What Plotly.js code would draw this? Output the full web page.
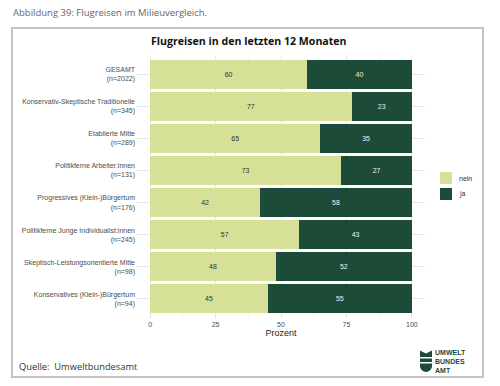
<!DOCTYPE html>
<html>
<head>
<meta charset="utf-8">
<script src="https://cdn.plot.ly/plotly-3.0.1.min.js"></script>
<style>
  html, body { margin: 0; padding: 0; background: #ffffff; }
  #chart { width: 500px; height: 386px; }
</style>
</head>
<body>
<div id="chart"></div>
<script>
// Milieus, top to bottom
const milieus = [
  "GESAMT",
  "Konservativ-Skeptische Traditionelle",
  "Etablierte Mitte",
  "Politikferne Arbeiter:innen",
  "Progressives (Klein-)Bürgertum",
  "Politikferne Junge Individualist:innen",
  "Skeptisch-Leistungsorientierte Mitte",
  "Konservatives (Klein-)Bürgertum"
];
const sampleSizes = [2022, 345, 289, 131, 176, 245, 98, 94];

// Share (in %) who did not / did travel by plane in the last 12 months
const neinValues = [60, 77, 65, 73, 42, 57, 48, 45];
const jaValues   = [40, 23, 35, 27, 58, 43, 52, 55];

const seriesNames = ["nein", "ja"];
const xTickValues = [0, 25, 50, 75, 100];

const categoryLabels = milieus.map((m, i) => m + "<br>(n=" + sampleSizes[i] + ")");

// Plot frame in pixels, used to place page decorations in paper units
const W = 500, H = 386;
const plotL = 137, plotR = 425, plotT = 55, plotB = 318;
const px = x => (x - plotL) / (plotR - plotL);
const py = y => (plotB - y) / (plotB - plotT);

const colNein = "#d6e197";
const colJa = "#1c4b37";
const seriesColors = [colNein, colJa];
const sansFamily = "Liberation Sans, Arial, sans-serif";
const tickFont = { family: sansFamily, size: 7, color: "#4d4d4d" };

const traces = [
  {
    type: "bar", orientation: "h", name: seriesNames[0],
    y: categoryLabels, x: neinValues,
    marker: { color: colNein, line: { width: 0 } },
    text: neinValues.map(String), textposition: "inside", insidetextanchor: "middle",
    textfont: { family: sansFamily, size: 7, color: "#333333" },
    hoverinfo: "skip", showlegend: false
  },
  {
    type: "bar", orientation: "h", name: seriesNames[1],
    y: categoryLabels, x: jaValues,
    marker: { color: colJa, line: { width: 0 } },
    text: jaValues.map(String), textposition: "inside", insidetextanchor: "middle",
    textfont: { family: sansFamily, size: 7, color: "#eeeeee" },
    hoverinfo: "skip", showlegend: false
  }
];

// Umweltbundesamt logo mark, drawn as paths in pixel coordinates
function pathFromPx(points) {
  return points.map((p, i) => (i === 0 ? "M" : "L") + px(p[0]).toFixed(4) + "," + py(p[1]).toFixed(4)).join(" ") + " Z";
}
const logoTop = pathFromPx([[420, 350.5], [426, 353.5], [432, 350.5], [432, 357], [420, 357]]);
const logoMid = pathFromPx([[420, 358.5], [432, 358.5], [432, 362], [420, 362]]);
const logoBot = pathFromPx([[420, 363.5], [432, 363.5], [432, 367], [430.5, 370], [428, 371.5], [426, 372], [424, 371.5], [421.5, 370], [420, 367]]);

const shapes = [
  // outer frame
  { type: "rect", xref: "paper", yref: "paper", x0: px(12), x1: px(483), y0: py(28), y1: py(377),
    line: { color: "#c4c4c4", width: 2 }, fillcolor: "rgba(0,0,0,0)", layer: "below" },
  { type: "path", xref: "paper", yref: "paper", path: logoTop, fillcolor: colJa, line: { width: 0 } },
  { type: "path", xref: "paper", yref: "paper", path: logoMid, fillcolor: colJa, line: { width: 0 } },
  { type: "path", xref: "paper", yref: "paper", path: logoBot, fillcolor: colJa, line: { width: 0 } }
];

const annotations = [
  { text: "Abbildung 39: Flugreisen im Milieuvergleich.", xref: "paper", yref: "paper",
    x: px(11), y: py(12), xanchor: "left", yanchor: "middle", showarrow: false,
    font: { family: "Open Sans, sans-serif", size: 9.5, color: "#666666" } },
  { text: "Quelle:  Umweltbundesamt", xref: "paper", yref: "paper",
    x: px(17), y: py(366), xanchor: "left", yanchor: "middle", showarrow: false,
    font: { family: "Open Sans, sans-serif", size: 9.3, color: "#333333" } },
  { text: "<b>UMWELT<br>BUNDES<br>AMT</b>", xref: "paper", yref: "paper", x: px(432.5), y: py(361),
    xanchor: "left", yanchor: "middle", align: "left", showarrow: false,
    font: { family: sansFamily, size: 7, color: colJa } }
];

// Legend: colour keys with their series names
seriesNames.forEach((name, i) => {
  const top = 172 + i * 16;
  shapes.push({ type: "rect", xref: "paper", yref: "paper",
    x0: px(440), x1: px(452), y0: py(top), y1: py(top + 12),
    fillcolor: seriesColors[i], line: { width: 0 } });
  annotations.push({ text: name, xref: "paper", yref: "paper",
    x: px(457), y: py(top + 6), xanchor: "left", yanchor: "middle", showarrow: false,
    font: { family: sansFamily, size: 7, color: "#333333" } });
});

const layout = {
  width: W, height: H,
  margin: { l: plotL, r: W - plotR, t: plotT, b: H - plotB, pad: 0 },
  paper_bgcolor: "#ffffff", plot_bgcolor: "#ffffff",
  barmode: "stack", bargap: 0.1,
  showlegend: false,
  title: {
    text: "<b>Flugreisen in den letzten 12 Monaten</b>",
    x: 151 / W, xanchor: "left", xref: "container",
    y: 1 - 41 / H, yanchor: "middle", yref: "container",
    font: { family: "Open Sans, sans-serif", size: 10.6, color: "#111111" }
  },
  xaxis: {
    range: [-5, 105], tickvals: xTickValues, ticktext: xTickValues.map(String),
    showgrid: true, gridcolor: "#e6e6e6", gridwidth: 1,
    minor: { dtick: 12.5, tick0: 0, showgrid: true, gridcolor: "#efefef", gridwidth: 0.6 },
    zeroline: false, showline: false, ticks: "", ticklabelstandoff: 1,
    tickfont: tickFont,
    title: { text: "Prozent", standoff: 2, font: { family: sansFamily, size: 9, color: "#222222" } },
    fixedrange: true
  },
  yaxis: {
    type: "category", range: [7.6, -0.6],
    showgrid: true, gridcolor: "#e6e6e6", gridwidth: 1,
    zeroline: false, showline: false, ticks: "", ticklabelstandoff: 1,
    tickfont: tickFont, fixedrange: true
  },
  shapes: shapes,
  annotations: annotations
};

Plotly.newPlot("chart", traces, layout, { displayModeBar: false, staticPlot: true });
</script>
</body>
</html>
